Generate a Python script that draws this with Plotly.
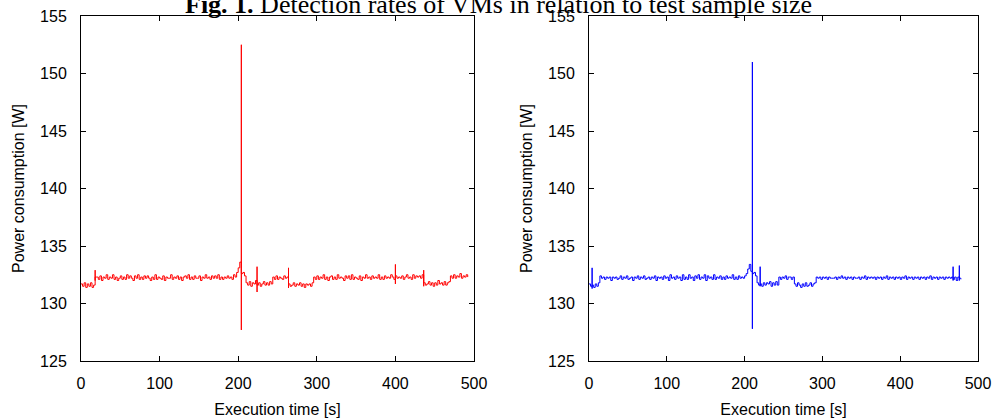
import plotly.graph_objects as go

sample_interval_s = 2

# Baseline power readings (one every 2 s), left run (red)
left_power = [
    131.7, 131.5, 131.8, 131.4, 131.7, 131.5, 131.8, 131.4, 131.6,
    132.3,
    132.3, 132.1, 132.4, 132.0, 132.3, 132.2, 132.5, 132.1, 132.3, 132.2,
    132.5, 132.1, 132.3, 132.0, 132.2, 132.4, 132.1, 132.3, 132.1, 132.5,
    132.2, 132.4, 132.2, 132.0, 132.4, 132.2, 132.5, 132.1, 132.3, 132.1,
    132.4, 132.2, 132.4, 132.2, 132.0, 132.3, 132.1, 132.5, 132.1, 132.3,
    132.2, 132.1, 132.4, 132.0, 132.3, 132.2, 132.2, 132.5, 132.1, 132.3,
    132.2, 132.4, 132.1, 132.3, 132.0, 132.3, 132.4, 132.2, 132.5, 132.1,
    132.3, 132.1, 132.4, 132.2, 132.2, 132.4, 132.0, 132.3, 132.2, 132.5,
    132.2, 132.3, 132.1, 132.4, 132.2, 132.4, 132.2, 132.5, 132.1, 132.3,
    132.1, 132.3, 132.2, 132.4, 132.2, 132.3, 132.1, 132.5, 132.3,
    132.7, 133.1, 133.6,
    132.6,
    132.7, 132.4,
    131.8, 131.6, 131.9, 131.5, 131.8, 131.7, 132.0, 131.6, 131.8, 131.5,
    131.7, 131.9, 131.6, 131.8, 131.6, 131.9, 131.7,
    132.3, 132.1, 132.4, 132.1, 132.3, 132.2, 132.1, 132.4, 132.2, 132.3,
    131.7, 131.5, 131.6, 131.8, 131.5, 131.7, 131.6, 131.8, 131.5, 131.7,
    131.4, 131.7, 131.6, 131.7, 131.5, 131.8,
    132.3, 132.1, 132.4, 132.1, 132.3, 132.2, 132.5, 132.1, 132.3, 132.0,
    132.3, 132.4, 132.1, 132.3, 132.1, 132.5, 132.2, 132.3, 132.2, 132.0,
    132.4, 132.2, 132.4, 132.1, 132.5, 132.1, 132.3, 132.2, 132.1, 132.4,
    132.0, 132.3, 132.2, 132.5, 132.2, 132.3, 132.1, 132.4, 132.2, 132.3,
    132.2, 132.5, 132.1, 132.3, 132.1, 132.4, 132.2, 132.3, 132.2, 132.5,
    132.3, 132.1, 132.4, 132.2, 132.3, 132.2, 132.4, 132.1, 132.3, 132.5,
    132.2, 132.3, 132.1, 132.5, 132.2, 132.4, 132.3, 132.4, 132.2, 132.5,
    131.8, 131.6, 131.7, 131.9, 131.6, 131.8, 131.5, 131.8, 131.6, 132.0,
    131.7, 131.8, 131.6, 131.9, 131.6, 131.8, 131.9,
    132.4, 132.2, 132.5, 132.2, 132.4, 132.3, 132.6, 132.2, 132.4, 132.3,
    132.5, 132.3,
]
# Short transients (left run): time [s], peak [W], trough [W]
left_spike_time = [18, 204, 224, 264, 400, 436]
left_spike_high = [132.9, 152.5, 133.2, 133.1, 133.4, 132.9]
left_spike_low = [132.0, 127.7, 131.0, 131.35, 131.7, 131.5]

# Baseline power readings (one every 2 s), right run (blue)
right_power = [
    131.7, 131.5, 131.6, 131.4, 131.7, 131.5, 131.8,
    132.4, 132.2, 132.3, 132.1, 132.3, 132.2, 132.3, 132.0, 132.3, 132.2,
    132.3, 132.1, 132.2, 132.4, 132.1, 132.3, 132.2, 132.4, 132.1, 132.2,
    132.3, 132.0, 132.3, 132.2, 132.4, 132.1, 132.3, 132.2, 132.4, 132.1,
    132.2, 132.3, 132.1, 132.3, 132.2, 132.4, 132.0, 132.3, 132.2, 132.3,
    132.1, 132.4, 132.2, 132.3, 132.0, 132.5, 132.2, 132.3, 132.1, 132.4,
    132.2, 132.3, 132.0, 132.5, 132.1, 132.3, 132.1, 132.5, 132.2, 132.3,
    132.0, 132.4, 132.2, 132.5, 132.1, 132.3, 132.2, 132.5, 132.0, 132.4,
    132.2, 132.3, 132.1, 132.5, 132.1, 132.3, 132.2, 132.4, 132.1, 132.3,
    132.1, 132.4, 132.2, 132.3, 132.2, 132.5, 132.1, 132.3, 132.1, 132.4,
    132.2, 132.3, 132.2, 132.4,
    132.6, 133.0, 133.4, 132.8,
    132.6,
    132.7, 132.4,
    131.8, 131.6, 131.7, 131.5, 131.8, 131.6, 131.8, 131.7, 131.9, 131.5,
    131.8, 131.6, 131.9, 131.6,
    132.3, 132.1, 132.3, 132.2, 132.4, 132.1, 132.3, 132.3, 132.1, 132.3,
    131.7, 131.5, 131.8, 131.6, 131.4, 131.7, 131.5, 131.8, 131.5, 131.6,
    131.8, 131.5, 131.7, 131.8,
    132.3, 132.2, 132.3, 132.1, 132.3, 132.2, 132.3, 132.1, 132.3, 132.2,
    132.2, 132.2, 132.3, 132.1, 132.3, 132.2, 132.4, 132.2, 132.3, 132.1,
    132.3, 132.2, 132.3, 132.1, 132.3, 132.2, 132.2, 132.3, 132.1, 132.3,
    132.2, 132.4, 132.1, 132.3, 132.2, 132.3, 132.2, 132.3, 132.1, 132.3,
    132.2, 132.3, 132.1, 132.3, 132.2, 132.4, 132.1, 132.3, 132.2, 132.3,
    132.1, 132.3, 132.2, 132.3, 132.1, 132.3, 132.2, 132.4, 132.1, 132.3,
    132.2, 132.3, 132.1, 132.3, 132.2, 132.3, 132.1, 132.3, 132.2, 132.3,
    132.1, 132.3, 132.2, 132.4, 132.1, 132.3, 132.2, 132.3, 132.1, 132.3,
    132.2, 132.3, 132.1, 132.3, 132.2, 132.3, 132.2, 132.3, 132.1, 132.3,
    132.0, 132.3, 132.2, 132.1,
]
# Short transients (right run): time [s], peak [W], trough [W]
right_spike_time = [4, 210, 220, 468, 476]
right_spike_high = [133.1, 151.0, 133.2, 133.2, 133.3]
right_spike_low = [131.3, 127.8, 131.5, 132.0, 132.0]

x_ticks = [0, 100, 200, 300, 400, 500]
y_ticks = [125, 130, 135, 140, 145, 150, 155]
x_title = "Execution time [s]"
y_title = "Power consumption [W]"
fig_title = "<b>Fig. 1.</b> Detection rates of VMs in relation to test sample size"


def with_spikes(values, s_t, s_hi, s_lo):
    xs, ys = [], []
    for i, v in enumerate(values):
        t = i * sample_interval_s
        xs.append(t)
        ys.append(v)
        if t in s_t:
            k = s_t.index(t)
            xs += [t, t, t]
            ys += [s_hi[k], s_lo[k], v]
    return xs, ys


lx, ly = with_spikes(left_power, left_spike_time, left_spike_high, left_spike_low)
rx, ry = with_spikes(right_power, right_spike_time, right_spike_high, right_spike_low)

fig = go.Figure()
fig.add_trace(go.Scatter(x=lx, y=ly, mode="lines",
                         line=dict(color="#ff0000", width=1, shape="hv"),
                         xaxis="x", yaxis="y", showlegend=False))
fig.add_trace(go.Scatter(x=rx, y=ry, mode="lines",
                         line=dict(color="#0000ff", width=1, shape="hv"),
                         xaxis="x2", yaxis="y2", showlegend=False))

H, W = 418, 995
font = dict(family="Liberation Sans, Arial, sans-serif", size=16, color="black")


def xax(domain, anchor):
    return dict(domain=domain, anchor=anchor, range=[0, 500], tickvals=x_ticks,
                ticks="inside", ticklen=5, tickwidth=1, tickcolor="black",
                showline=True, linecolor="black", linewidth=1, mirror="ticks",
                showgrid=False, zeroline=False, tickfont=font, automargin=False,
                ticklabelstandoff=8,
                title=dict(text=x_title, font=font, standoff=12))


def yax(domain, anchor):
    return dict(domain=domain, anchor=anchor, range=[125, 155], tickvals=y_ticks,
                ticks="inside", ticklen=5, tickwidth=1, tickcolor="black",
                showline=True, linecolor="black", linewidth=1, mirror="ticks",
                showgrid=False, zeroline=False, tickfont=font, automargin=False,
                ticklabelstandoff=10,
                title=dict(text=y_title, font=font, standoff=11))


ydom = [1 - 361 / H, 1 - 16 / H]
fig.update_layout(
    width=W, height=H,
    margin=dict(l=0, r=0, t=0, b=0),
    paper_bgcolor="white", plot_bgcolor="white",
    xaxis=xax([81 / W, 474 / W], "y"),
    yaxis=yax(ydom, "x"),
    xaxis2=xax([589 / W, 978 / W], "y2"),
    yaxis2=yax(ydom, "x2"),
    annotations=[dict(text=fig_title, xref="paper", yref="paper", x=498 / W, y=1 - 21 / H,
                      xanchor="center", yanchor="bottom", showarrow=False,
                      font=dict(family="Liberation Serif, serif", size=26, color="black"))],
)

fig.write_html("out.html", config={"displayModeBar": False},
               post_script="document.body.style.margin='0px';")
